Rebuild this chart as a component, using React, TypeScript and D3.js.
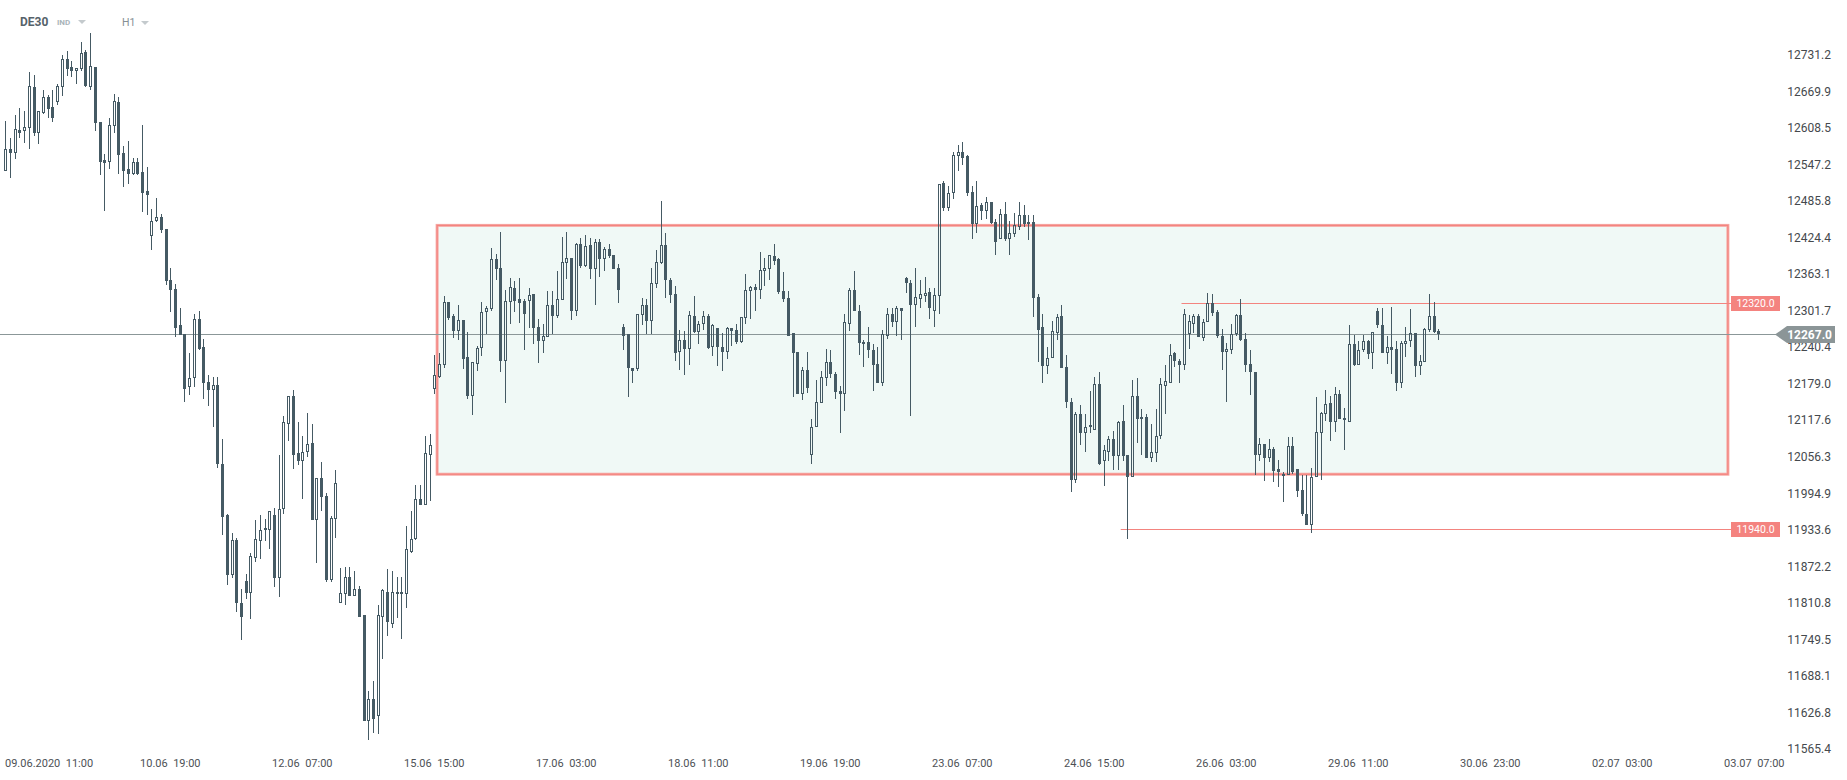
import React from "react";
import * as d3 from "d3";

const W = 1847;
const H = 780;

// OHLC, H1 candles (DE30)
const opens = [12542,12578,12571,12610,12608,12613,12683,12606,12639,12665,12649,12658,12683,12729,12716,12709,12712,12741,12683,12716,12624,12560,12556,12617,12657,12572,12545,12537,12557,12540,12508,12432,12457,12464,12444,12359,12343,12283,12268,12178,12193,12293,12246,12187,12173,12182,12049,11963,11863,11922,11816,11853,11833,11892,11920,11938,11939,11963,11857,11973,12116,12163,12067,12055,12069,12084,11955,12025,11995,11855,11957,11815,11830,11860,11828,11840,11795,11618,11655,11626,11793,11835,11781,11830,11834,11830,11902,11923,11990,11981,12065,12176,12195,12215,12321,12297,12272,12291,12229,12164,12218,12244,12304,12309,12393,12378,12223,12321,12344,12326,12323,12323,12334,12279,12256,12262,12316,12298,12324,12386,12396,12307,12419,12381,12417,12376,12422,12393,12410,12400,12378,12279,12267,12210,12208,12299,12317,12289,12351,12386,12417,12359,12334,12237,12257,12242,12297,12271,12284,12297,12245,12277,12245,12238,12277,12274,12254,12294,12339,12346,12341,12373,12376,12398,12393,12339,12328,12269,12237,12166,12207,12065,12111,12151,12193,12220,12200,12171,12166,12285,12341,12307,12250,12254,12240,12217,12185,12265,12302,12287,12311,12361,12354,12317,12327,12331,12338,12306,12331,12521,12479,12504,12566,12574,12566,12506,12452,12484,12474,12489,12455,12427,12469,12427,12435,12447,12467,12452,12455,12329,12279,12213,12227,12270,12297,12212,12153,12023,12134,12101,12111,12107,12183,12054,12070,12092,12062,12121,12064,12028,12163,12124,12128,12060,12067,12096,12181,12186,12235,12223,12215,12267,12285,12297,12261,12287,12320,12305,12265,12238,12241,12268,12300,12260,12218,12204,12065,12083,12060,12075,12040,12030,12031,12080,12040,12006,11966,11947,12028,12102,12134,12152,12120,12167,12127,12120,12251,12216,12240,12255,12236,12307,12283,12236,12246,12243,12186,12251,12255,12270,12213,12221,12275,12297,12273];
const highs = [12626,12596,12635,12648,12642,12708,12703,12643,12677,12669,12677,12687,12736,12743,12726,12714,12758,12745,12773,12716,12624,12570,12630,12671,12665,12584,12592,12563,12564,12619,12548,12477,12496,12469,12444,12379,12352,12312,12268,12236,12301,12307,12260,12198,12195,12195,12092,11965,11934,11925,11840,11864,11899,11955,11963,11956,11970,11975,12064,12129,12163,12173,12120,12096,12135,12116,12025,12052,12000,11962,12039,11874,11877,11877,11869,11844,11795,11668,11685,11813,11840,11872,11869,11860,11859,11945,11971,12014,12014,12097,12099,12233,12235,12331,12321,12301,12316,12291,12271,12221,12247,12321,12314,12412,12402,12439,12342,12361,12357,12361,12326,12344,12334,12293,12284,12340,12340,12373,12431,12439,12396,12420,12429,12434,12429,12427,12427,12414,12418,12400,12385,12284,12267,12210,12302,12328,12327,12379,12408,12491,12437,12361,12349,12275,12272,12307,12331,12289,12306,12301,12285,12277,12270,12280,12277,12284,12296,12369,12349,12351,12406,12396,12401,12418,12395,12371,12339,12270,12237,12212,12238,12124,12191,12205,12242,12240,12203,12181,12302,12344,12373,12316,12257,12280,12250,12245,12274,12311,12311,12314,12312,12364,12358,12378,12359,12363,12344,12344,12519,12524,12517,12574,12585,12590,12569,12516,12524,12487,12497,12489,12460,12477,12489,12457,12470,12490,12485,12467,12467,12334,12302,12245,12290,12302,12317,12233,12160,12136,12148,12134,12171,12195,12203,12081,12097,12104,12122,12149,12064,12191,12193,12141,12134,12116,12141,12193,12215,12250,12237,12225,12309,12299,12302,12301,12292,12337,12334,12308,12276,12253,12285,12302,12327,12270,12240,12204,12093,12083,12092,12078,12056,12035,12095,12095,12040,12031,12030,12043,12162,12137,12174,12164,12179,12174,12144,12283,12266,12255,12266,12258,12271,12312,12312,12265,12313,12255,12256,12280,12310,12270,12233,12278,12335,12321,12276];
const lows = [12541,12529,12561,12596,12589,12579,12601,12586,12637,12630,12624,12652,12668,12701,12699,12688,12710,12683,12678,12608,12535,12475,12544,12606,12537,12514,12520,12535,12535,12472,12468,12408,12456,12438,12350,12304,12262,12266,12153,12165,12179,12240,12158,12146,12112,12042,11930,11846,11858,11800,11754,11823,11789,11885,11890,11920,11906,11843,11825,11966,12087,12040,12047,11991,12061,11955,11883,11971,11851,11851,11925,11815,11812,11828,11828,11793,11618,11585,11598,11595,11721,11761,11774,11790,11756,11808,11900,11921,11981,11981,11987,12167,12193,12211,12291,12261,12257,12209,12158,12132,12205,12231,12267,12307,12358,12203,12152,12285,12305,12286,12241,12278,12251,12219,12235,12262,12267,12295,12324,12360,12291,12298,12378,12380,12360,12317,12363,12373,12396,12376,12319,12241,12162,12185,12206,12282,12268,12268,12344,12385,12328,12319,12223,12207,12198,12215,12269,12250,12275,12242,12231,12213,12206,12226,12247,12250,12252,12284,12292,12307,12327,12348,12359,12383,12334,12322,12265,12162,12166,12156,12169,12049,12111,12151,12181,12193,12159,12102,12138,12272,12306,12233,12212,12227,12171,12185,12180,12260,12279,12264,12257,12336,12129,12280,12312,12321,12292,12279,12302,12474,12474,12495,12541,12551,12500,12427,12437,12459,12460,12452,12401,12427,12423,12401,12430,12443,12447,12425,12296,12220,12185,12201,12227,12257,12210,12143,12002,12017,12081,12070,12101,12106,12048,12012,12055,12039,12039,12055,11924,12027,12084,12065,12060,12052,12052,12092,12133,12186,12212,12186,12207,12242,12270,12262,12256,12287,12297,12261,12207,12153,12234,12265,12255,12204,12165,12031,12055,12021,12053,12019,12011,11986,12030,12032,11994,11962,11947,11934,12028,12023,12122,12087,12103,12124,12072,12120,12213,12216,12238,12226,12209,12278,12236,12218,12201,12172,12177,12229,12245,12196,12199,12221,12271,12270,12258];
const closes = [12578,12571,12612,12606,12615,12685,12606,12643,12665,12646,12630,12685,12729,12713,12709,12714,12739,12685,12717,12622,12557,12555,12618,12659,12568,12542,12537,12557,12537,12505,12501,12458,12464,12442,12357,12341,12278,12266,12176,12194,12293,12243,12186,12173,12182,12049,11960,11863,11922,11816,11793,11833,11895,11923,11939,11941,11970,11857,11973,12119,12163,12065,12055,12070,12082,11955,12025,11993,11855,11958,12017,11832,11860,11828,11840,11793,11618,11655,11620,11795,11837,11783,11834,11834,11830,11906,11924,11991,11981,12067,12081,12198,12217,12321,12294,12272,12291,12226,12164,12220,12244,12304,12312,12393,12376,12223,12323,12346,12323,12320,12301,12333,12277,12255,12264,12316,12297,12326,12388,12396,12306,12419,12381,12415,12376,12422,12393,12410,12398,12376,12341,12264,12211,12206,12301,12317,12289,12353,12388,12417,12358,12333,12235,12257,12243,12299,12271,12285,12297,12244,12282,12245,12238,12277,12272,12254,12296,12341,12346,12341,12375,12378,12400,12391,12338,12326,12265,12235,12166,12207,12177,12112,12154,12195,12220,12200,12170,12166,12287,12341,12306,12252,12254,12240,12215,12185,12267,12302,12287,12312,12307,12354,12317,12329,12334,12336,12311,12333,12519,12479,12504,12568,12574,12563,12504,12452,12482,12474,12489,12454,12422,12469,12427,12437,12450,12467,12452,12455,12328,12275,12213,12228,12272,12296,12210,12153,12023,12134,12101,12112,12114,12183,12050,12072,12092,12062,12119,12062,12027,12163,12124,12128,12060,12069,12097,12183,12188,12233,12222,12215,12302,12290,12297,12262,12288,12320,12303,12265,12238,12243,12268,12300,12258,12216,12203,12065,12082,12060,12075,12038,12035,12033,12080,12036,12004,11966,11947,12028,12103,12135,12150,12120,12166,12125,12124,12251,12216,12241,12255,12234,12271,12282,12236,12245,12240,12186,12253,12256,12270,12213,12223,12276,12298,12271,12267];

// price axis tick labels
const priceTicks = [12731.2,12669.9,12608.5,12547.2,12485.8,12424.4,12363.1,12301.7,12240.4,12179.0,12117.6,12056.3,11994.9,11933.6,11872.2,11810.8,11749.5,11688.1,11626.8,11565.4];

// time axis labels and the candle index each one sits on
const timeLabels = ["09.06.2020  11:00","10.06  19:00","12.06  07:00","15.06  15:00","17.06  03:00","18.06  11:00","19.06  19:00","23.06  07:00","24.06  15:00","26.06  03:00","29.06  11:00","30.06  23:00","02.07  03:00","03.07  07:00"];
const timeLabelIndex = [7,35,63,91,119,147,175,203,231,259,287,315,343,371];

// annotations
const zoneTop = 12450;
const zoneBottom = 12032;
const zoneStartIndex = 91.6;
const zoneEndIndex = 365.4;
const levelPrices = [12320.0, 11940.0];
const levelStartIndex = [249.5, 236.6];
const lastPrice = 12267.0;

const FONT = "Roboto, 'Noto Sans', sans-serif";
const CANDLE = "#455a64";
const SALMON = "#f3847f";

export default function App() {
  const x = d3.scaleLinear().domain([0, 28]).range([5.3, 137.3]);
  const y = d3.scaleLinear().domain([11565.4, 12731.2]).range([752, 58]);

  const labelRight = 1831;
  const levelEndX = 1731;
  const rx0 = x(zoneStartIndex);
  const rx1 = x(zoneEndIndex);
  const ry0 = y(zoneTop);
  const ry1 = y(zoneBottom);
  const lpY = Math.round(y(lastPrice)) + 0.5;

  const candles = opens.map((o, i) => {
    const c = closes[i];
    const hi = highs[i];
    const lo = lows[i];
    const cx = Math.round(x(i));
    const up = c >= o;
    const top = Math.round(y(Math.max(o, c)));
    const bot = Math.max(Math.round(y(Math.min(o, c))), top + 2);
    const yh = Math.round(y(hi));
    const yl = Math.round(y(lo));
    return (
      <g key={i}>
        {yh < top && (
          <line x1={cx + 0.5} x2={cx + 0.5} y1={yh} y2={top} stroke={CANDLE} strokeWidth={1} />
        )}
        {yl > bot && (
          <line x1={cx + 0.5} x2={cx + 0.5} y1={bot} y2={yl} stroke={CANDLE} strokeWidth={1} />
        )}
        {up ? (
          <rect x={cx - 0.5} y={top + 0.5} width={2} height={bot - top - 1} fill="none" stroke={CANDLE} strokeWidth={1} />
        ) : (
          <rect x={cx - 1} y={top} width={3} height={bot - top} fill={CANDLE} />
        )}
      </g>
    );
  });

  return (
    <svg
      width={W}
      height={H}
      style={{ position: "absolute", left: 0, top: 0, display: "block", background: "#ffffff" }}
      fontFamily={FONT}
    >
      {/* header */}
      <text x={20} y={22} dy="0.35em" fontSize={12} fontWeight={700} fill="#56626a">DE30</text>
      <text x={57} y={22} dy="0.35em" fontSize={8} fontWeight={700} fill="#a9b4b9">IND</text>
      <path d="M78,20 L86,20 L82,24 Z" fill="#c4cacd" />
      <text x={122} y={22} dy="0.35em" fontSize={10.5} fill="#858f95">H1</text>
      <path d="M141,21 L149,21 L145,25 Z" fill="#c4cacd" />

      {/* range zone */}
      <rect x={rx0} y={ry0} width={rx1 - rx0} height={ry1 - ry0} fill="#f0f9f6" stroke="#f7aaa6" strokeWidth={3} />
      <rect x={rx0} y={ry0} width={rx1 - rx0} height={ry1 - ry0} fill="none" stroke={SALMON} strokeWidth={1.2} />

      {/* last price line */}
      <line x1={0} x2={1776} y1={lpY} y2={lpY} stroke="#8b9798" strokeWidth={1} />

      {/* horizontal levels */}
      {levelPrices.map((p, k) => {
        const ly = Math.round(y(p)) + 0.5;
        return (
          <g key={k}>
            <line x1={x(levelStartIndex[k])} x2={levelEndX} y1={ly} y2={ly} stroke={SALMON} strokeWidth={1} />
            <rect x={levelEndX} y={ly - 7.5} width={49} height={15} fill="#f4837f" />
            <text x={levelEndX + 24.5} y={ly} dy="0.35em" textAnchor="middle" fontSize={10.5} fill="#ffffff">
              {p.toFixed(1)}
            </text>
          </g>
        );
      })}

      {/* candles */}
      {candles}

      {/* price axis */}
      {priceTicks.map((t, k) => (
        <text key={k} x={labelRight} y={y(t) - 3} dy="0.35em" textAnchor="end" fontSize={12} fill="#45494d">
          {t.toFixed(1)}
        </text>
      ))}

      {/* last price marker */}
      <path
        d={`M1775,${lpY} L1787,${lpY - 8.5} L1835,${lpY - 8.5} L1835,${lpY + 8.5} L1787,${lpY + 8.5} Z`}
        fill="#8b9597"
      />
      <text x={1832} y={lpY} dy="0.36em" textAnchor="end" fontSize={12} fontWeight={700} fill="#ffffff">
        {lastPrice.toFixed(1)}
      </text>

      {/* time axis */}
      {timeLabels.map((t, k) => {
        const px = x(timeLabelIndex[k]);
        const clamp = px < 60;
        return (
          <text
            key={k}
            x={clamp ? 5 : px}
            y={763}
            dy="0.35em"
            textAnchor={clamp ? "start" : "middle"}
            fontSize={11}
            fill="#4d5155"
            style={{ whiteSpace: "pre" }}
          >
            {t}
          </text>
        );
      })}
    </svg>
  );
}
